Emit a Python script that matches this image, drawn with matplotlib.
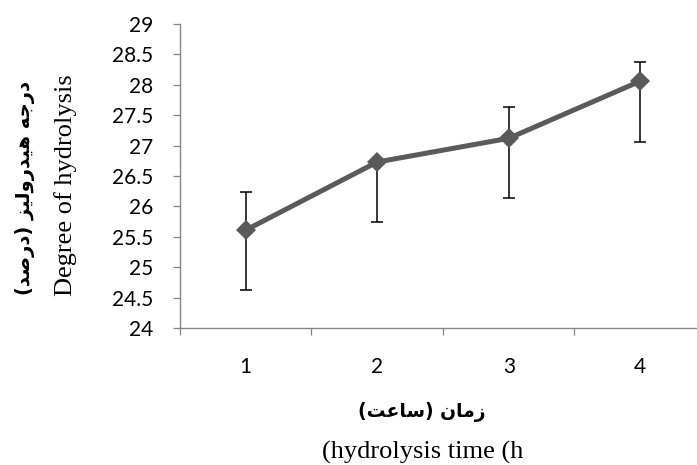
import numpy as np
import matplotlib
matplotlib.use("Agg")
import matplotlib.pyplot as plt

# data
hours = [1, 2, 3, 4]
degree = [25.61, 26.73, 27.12, 28.06]
err_up = [0.62, 0.0, 0.51, 0.32]
err_down = [0.99, 0.98, 0.99, 1.00]
yticks = np.arange(24, 29.01, 0.5)

ylabel_fa = "درجه هیدرولیز (درصد)"
ylabel_en = "Degree of hydrolysis"
xlabel_fa = "زمان (ساعت)"
xlabel_en = "(hydrolysis time (h"

# arabic presentation forms: isolated, final, initial, medial
FORMS = {
    'ا': ('\uFE8D', '\uFE8E', None, None),
    'ت': ('\uFE95', '\uFE96', '\uFE97', '\uFE98'),
    'ج': ('\uFE9D', '\uFE9E', '\uFE9F', '\uFEA0'),
    'د': ('\uFEA9', '\uFEAA', None, None),
    'ر': ('\uFEAD', '\uFEAE', None, None),
    'ز': ('\uFEAF', '\uFEB0', None, None),
    'س': ('\uFEB1', '\uFEB2', '\uFEB3', '\uFEB4'),
    'ص': ('\uFEB9', '\uFEBA', '\uFEBB', '\uFEBC'),
    'ع': ('\uFEC9', '\uFECA', '\uFECB', '\uFECC'),
    'ل': ('\uFEDD', '\uFEDE', '\uFEDF', '\uFEE0'),
    'م': ('\uFEE1', '\uFEE2', '\uFEE3', '\uFEE4'),
    'ن': ('\uFEE5', '\uFEE6', '\uFEE7', '\uFEE8'),
    'ه': ('\uFEE9', '\uFEEA', '\uFEEB', '\uFEEC'),
    'و': ('\uFEED', '\uFEEE', None, None),
    'ی': ('\uFEEF', '\uFEF0', '\uFEF3', '\uFEF4'),
}


def rtl(text):
    # join letters, then reverse into visual order
    out = []
    for i, ch in enumerate(text):
        if ch not in FORMS:
            out.append(ch)
            continue
        prev = text[i - 1] if i > 0 else ''
        nxt = text[i + 1] if i + 1 < len(text) else ''
        j_prev = prev in FORMS and FORMS[prev][2] is not None
        j_next = nxt in FORMS and FORMS[ch][2] is not None
        iso, fin, ini, med = FORMS[ch]
        if j_prev and j_next:
            out.append(med)
        elif j_prev:
            out.append(fin)
        elif j_next:
            out.append(ini)
        else:
            out.append(iso)
    vis = ''.join(reversed(out))
    return vis.translate(str.maketrans('()', ')('))


fig = plt.figure(figsize=(6.97, 4.65), dpi=100)
ax = fig.add_axes([0.2582, 0.2946, 0.7547, 0.6538])

grey = '#5a5a5a'
axis_grey = '#868686'

ax.errorbar(hours, degree, yerr=[err_down, err_up], fmt='none',
            ecolor='black', elinewidth=1.1, capsize=4.3, capthick=1.1, zorder=1)
ax.plot(hours, degree, color=grey, lw=3.6, marker='D', markersize=10.5,
        markeredgewidth=0, zorder=3)

ax.set_xlim(0.5, 4.5)
ax.set_ylim(24, 29)
ax.set_yticks(yticks)
ax.set_yticklabels(['%g' % v for v in yticks], family='Lato', fontsize=15)
ax.set_xticks(hours)
ax.set_xticklabels([str(h) for h in hours], family='Lato', fontsize=15)
ax.set_xticks(np.arange(0.5, 4.6, 1), minor=True)
ax.tick_params(axis='x', which='major', length=0, pad=21)
ax.tick_params(axis='x', which='minor', length=5, width=0.9, color=axis_grey, direction='out')
ax.tick_params(axis='y', length=5, width=0.9, color=axis_grey, direction='out', pad=14)

for s in ['top', 'right']:
    ax.spines[s].set_visible(False)
for s in ['left', 'bottom']:
    ax.spines[s].set_color(axis_grey)
    ax.spines[s].set_linewidth(1.0)

# axis titles: persian line + english line
fig.text(25 / 697, 1 - 188 / 465, rtl(ylabel_fa), rotation=90, ha='center', va='center',
         family='DejaVu Sans', weight='bold', fontsize=14)
fig.text(66 / 697, 1 - 185 / 465, ylabel_en, rotation=90, ha='center', va='center',
         family='Liberation Serif', fontsize=19)
fig.text(422 / 697, 1 - 412 / 465, rtl(xlabel_fa),
         ha='center', va='center', family='DejaVu Sans', weight='bold', fontsize=13.5)
fig.text(423 / 697, 1 - 452 / 465, xlabel_en, ha='center', va='center',
         family='Liberation Serif', fontsize=19)

fig.savefig('out.png', dpi=100)
